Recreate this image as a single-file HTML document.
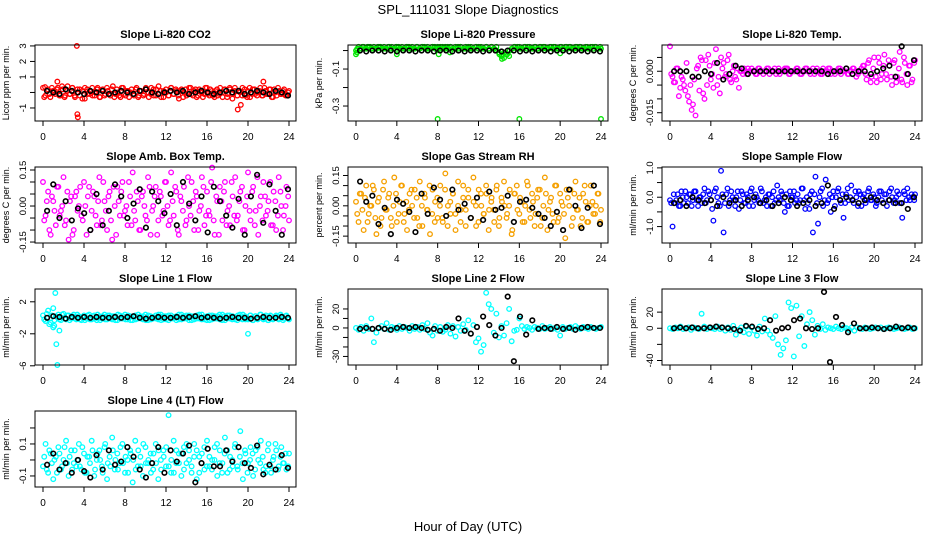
<!DOCTYPE html>
<html><head><meta charset="utf-8"><style>
html,body{margin:0;padding:0;background:#fff;}
svg text{font-family:"Liberation Sans",sans-serif;}
</style></head><body>
<svg id="chart" width="936" height="540" viewBox="0 0 936 540" xmlns="http://www.w3.org/2000/svg">
<text x="468" y="14" text-anchor="middle" font-size="13">SPL_111031  Slope Diagnostics</text>
<text x="468" y="531" text-anchor="middle" font-size="13">Hour of Day (UTC)</text>
</svg>
<script>
// ---- data (y-values evenly spread over 0..24 h; outliers as hour/value pairs) ----
const xTicks=[0,4,8,12,16,20,24];
// Panel 1 CO2 (x0.1)
const co2Colored=[3,-2,2,-3,1,-1,3,-2,2,-2,4,-1,3,-3,2,-2,1,-4,2,-1,3,-2,2,-3,1,-2,3,-1,2,-3,2,-2,3,-1,1,-3,2,-2,3,-2,1,-1,2,-3,3,-2,2,-1,1,-3,2,-2,3,-1,2,-2,1,-3,2,-1,3,-2,2,-2,1,-3,3,-1,2,-2,1,-2,3,-3,2,-1,2,-4,3,-2,1,-2,2,-3,3,-1,2,-2,1,-2,3,-1,2,-3,2,-2,1,-1,2,-2,1];
const co2Colored2=[-3,1,-1,3,0,2,-2,4,-3,1,-1,3,-2,0,2,-4,3,-1,1,-2,0,3,-3,2,-1,1,-2,4,-1,0,-3,3,-2,1,0,-1,2,-3,1,-2,3,0,-1,2,-2,4,-3,1,0,-2,3,-1,1,-4,2,0,-2,3,-1,1,-3,2,0,-1,3,-2,1,-3,2,-1,0,2,-3,3,-1,1,-2,0,3,-2,1,-3,2,-1,0,3,-2,1,-1,2,-3,0,3,-1,1,-2,0];
const co2Black=[1,0,-1,2,1,0,-1,1,0,1,-1,0,1,0,-1,1,2,0,-1,0,1,0,1,-1,0,1,0,-1,0,1,0,1,-1,0,1,0,-1,1,0,-2];
const co2OutHrs=[3.3,3.35,3.4,1.4,19,19.3,21.5,0.2];
const co2OutVals=[3.0,-1.4,-1.6,0.7,-1.1,-0.8,0.7,0.35];
// Panel 2 Pressure (x0.01)
const presColored=[0,2,1,2,1,2,1,2,1,2,1,2,1,2,2,1,2,1,2,1,2,1,2,1,2,1,2,1,2,1,2,1,2,2,1,2,1,2,1,2,1,2,1,2,1,2,1,2,1,2,1,2,1,2,1,2,-1,-3,-4,-2,-3,1,2,1,2,1,2,1,2,1,2,1,2,1,2,1,2,1,2,1,2,1,2,1,2,1,2,1,2,1,2,1,2,1,2,1,1];
const presColored2=[1,1,2,1,2,2,1,1,2,2,1,1,2,1,1,2,2,1,1,2,2,1,1,2,1,2,2,1,1,2,2,1,1,2,1,2,2,1,1,2,2,1,1,2,1,1,2,2,1,1,2,1,2,1,0,-2,-3,-1,-2,0,1,2,2,1,1,2,2,1,1,2,1,2,2,1,1,2,2,1,1,2,1,2,2,1,1,2,2,1,1,2,1,2,2,1,2];
const presBlack=[0,-1,0,0,-1,0,-1,0,0,-1,0,0,-1,0,0,-1,0,-1,0,0,-1,0,0,-1,0,0,-1,0,-1,0,0,-1,0,0,-1,0,0,-1,0,-1];
const presOutHrs=[0,8,16,24,4,0.1,8.1,20,9.2,14.3];
const presOutVals=[-0.02,-0.37,-0.37,-0.37,-0.02,-0.01,-0.02,-0.015,-0.01,-0.045];
// Panel 3 Li-820 Temp (x0.001)
const tempColored=[9,-2,-4,1,-6,-3,-7,-9,-5,-12,-16,2,5,-8,4,6,-3,-6,8,-2,5,3,-1,6,-4,2,-3,-6,0,1,-1,0,1,0,-1,1,0,0,1,-1,0,1,0,-1,0,1,1,-1,0,0,1,-1,0,1,0,-1,1,0,0,-1,1,0,1,-1,0,0,1,-1,0,1,-1,0,1,-2,0,1,2,-3,4,-2,5,-4,3,-1,6,-3,2,-5,4,-2,7,-4,3,-5,2,-3,4];
const tempColored2=[-1,-4,1,-9,-2,-5,3,-11,-14,-3,1,-7,4,-10,-5,2,-1,3,-5,-8,1,-2,4,-3,0,-2,1,0,-1,0,1,0,0,-1,1,0,-1,0,1,0,0,-1,1,0,0,1,-1,0,0,1,0,-1,0,1,0,0,-1,1,0,-1,0,0,1,0,-1,0,1,0,0,-1,0,1,0,-1,0,2,-1,3,-4,1,-2,5,-3,2,-1,4,-2,3,-4,1,-3,5,-1,2,-4,3];
const tempBlack=[0,0,0,-2,-2,0,-1,3,-3,-1,2,1,-1,0,0,0,0,0,0,0,0,0,0,0,0,-1,0,0,1,-1,0,0,-1,0,1,2,-2,9,-1,4];
// Panel 4 Amb Box Temp (x0.01)
const ambColored=[10,-4,6,-12,2,-8,8,-2,12,-6,-14,4,-10,6,0,-4,10,-12,8,-2,4,-8,12,-6,2,-10,6,-14,0,8,-4,10,-2,-8,4,14,-6,2,-10,6,-4,12,-12,0,8,-6,4,-2,10,-8,14,-4,6,-12,2,8,-6,0,10,-10,4,-2,12,-8,6,-4,16,-12,2,8,-6,10,-2,-8,4,12,-4,6,-10,0,14,-6,8,-2,-12,4,10,-4,2,-8,6,-10,12,0,-4,8,-6];
const ambColored2=[-6,2,-10,4,-2,8,-4,0,-8,6,2,-12,4,-2,8,-6,0,4,-10,6,-4,2,-8,10,-2,4,-6,8,-12,2,6,-4,0,10,-8,-2,6,-10,4,0,-6,8,-2,4,-12,6,-4,10,0,-6,2,8,-10,4,-2,-8,12,-4,2,6,-10,0,8,-4,-2,10,-6,4,-12,2,6,-8,0,10,-4,-6,2,8,-10,4,-2,6,-8,12,0,-6,4,-2,10,-8,2,-4,6,-10,0,4];
const ambBlack=[-2,9,-5,2,-6,-1,-3,-10,5,-8,-2,9,4,-5,1,7,-9,6,2,-3,5,-8,10,1,-6,4,-11,8,2,-4,-9,3,-12,4,13,-7,9,-2,-12,7];
// Panel 5 Gas Stream RH (x0.01)
const rhColored=[2,-8,6,-12,10,-4,0,8,-14,4,-6,12,-2,6,-10,14,-8,2,10,-4,-12,6,0,8,-6,12,-10,4,-2,-14,8,2,-6,10,-8,16,0,-4,6,-12,12,-2,4,-10,8,-6,14,0,-8,6,-4,10,-12,2,-2,8,-10,4,12,-6,0,-14,6,10,-4,2,-8,12,-2,6,-10,4,8,-6,14,-12,2,-4,10,-8,6,0,-16,4,8,-6,12,-2,-10,6,2,-8,10,-4,0,6,-2];
const rhColored2=[-4,6,-2,4,-8,0,10,-6,2,-10,8,-2,4,-6,0,6,-4,10,-8,2,-2,8,-6,4,-10,0,6,-2,10,-4,-8,4,0,-6,8,-10,2,6,-4,0,-8,10,-2,4,-6,2,-10,8,0,-4,6,-2,4,-8,10,-6,2,0,-4,8,-12,6,-2,4,-8,0,10,-6,2,-4,8,-10,0,6,-2,4,-8,10,-6,2,-4,8,0,-10,6,-2,4,-6,10,-8,0,2,-4,6,-8];
const rhBlack=[12,2,5,-9,-1,-14,3,1,-3,-13,6,-4,9,3,-5,8,-2,1,-6,4,-7,7,-2,-1,5,-8,2,3,-1,-4,-6,-10,-3,-12,8,0,-11,-1,10,-9];
// Panel 6 Sample Flow (x0.1)
const flowColored=[-1,-10,-2,1,-3,0,2,-2,1,-1,2,-3,0,1,-2,2,-1,-8,3,-2,9,-12,1,-3,2,-1,0,-4,2,-2,1,-3,3,-1,0,-2,2,-1,-3,1,0,-2,4,-1,1,-5,-3,2,0,-2,1,-1,3,-4,-2,1,-12,7,-9,2,-3,6,-1,-5,2,0,3,-2,-7,1,-1,4,-2,0,2,-3,1,-1,3,-1,0,-2,2,-1,1,-3,2,0,-1,2,-2,-7,1,3,-1,0,1];
const flowColored2=[-2,1,-1,-3,2,-2,0,1,-3,2,-1,0,-2,3,-1,1,-4,2,0,-3,1,-2,3,-1,0,-3,2,-1,1,-2,0,2,-3,1,-1,3,-2,0,1,-3,2,-1,0,2,-2,1,-3,0,2,-1,-2,3,-1,0,-4,2,1,-2,0,3,-1,-2,1,0,-3,2,-1,1,-2,3,0,-1,2,-3,1,0,-2,2,-1,1,-3,0,2,-2,1,-1,3,-2,0,1,-2,2,-1,0,1,-1];
const flowBlack=[-2,-1,-3,0,-1,-2,-1,-3,0,-2,-1,-3,-1,0,-2,-1,-3,-2,0,-1,-3,-2,-1,-3,-2,4,-4,-1,0,-1,-2,-1,0,-1,-2,-1,-2,-2,-4,0];
// Panel 7 Line 1 Flow (x0.1)
const l1Colored=[3,-4,9,-6,-12,2,4,-3,5,-2,3,-1,4,-2,2,-3,3,-1,4,-2,3,-3,2,-1,4,-2,3,-2,2,-3,3,-1,4,-2,2,-3,3,-1,2,-2,4,-3,2,-1,3,-2,4,-2,2,-3,3,-1,2,-2,4,-1,3,-3,2,-2,3,-1,4,-2,2,-3,3,-1,2,-2,4,-3,3,-1,2,-2,3,-1,4,-2,-2,3,-3,2,-1,4,-2,3,-3,2,-1,3,-2,2,-1,3,-2];
const l1Colored2=[-2,5,-8,3,-3,1,-2,4,-1,3,-3,2,-1,4,-2,1,-3,3,-2,2,-1,4,-3,2,-2,3,-1,2,-3,4,-1,2,-2,3,-3,1,-2,4,-1,2,-3,3,-2,1,-1,4,-3,2,-2,3,-1,1,-3,4,-2,2,-1,3,-3,2,-1,4,-2,1,-3,3,-2,2,-1,4,-3,2,-1,3,-2,1,-3,4,-2,2,-1,3,-3,2,-2,4,-1,1,-3,3,-2,2,-1,4,-3,2,-1];
const l1Black=[0,2,1,-1,1,0,1,0,1,0,0,1,0,1,2,0,-1,0,1,0,0,1,0,1,2,0,1,0,-1,0,1,0,0,-1,0,1,0,0,1,0];
const l1OutHrs=[1.2,1.3,1.4,1.0,1.6,20,1.1];
const l1OutVals=[3.1,-3.3,-5.9,1.2,-1.6,-2.0,-1.0];
// Panel 8 Line 2 Flow (x1)
const l2Colored=[0,-2,1,-3,2,-1,10,-15,-5,0,2,-1,5,-2,1,0,-2,2,-1,1,0,-3,2,-1,1,-2,3,-1,5,-5,-8,2,-3,1,-4,-2,3,-6,2,-9,1,-3,4,-2,8,-6,3,-15,-11,-25,-18,37,25,20,-5,15,-10,2,-8,5,20,-14,-3,-2,10,2,-1,1,0,-2,1,0,-1,2,-1,0,1,-1,0,-2,-8,1,-1,0,1,-1,2,0,-1,1,0,-1,1,0,-1,0,1];
const l2Black=[-1,0,-1,0,-1,-2,0,1,0,1,0,-2,-1,-3,1,0,10,-3,-6,1,12,3,-8,0,33,-35,12,-7,8,-1,0,-1,1,-1,0,-2,0,1,0,0];
// Panel 9 Line 3 Flow (x1)
const l3Colored=[0,-1,1,0,2,-1,0,1,-2,1,0,-1,18,2,-1,1,0,-1,2,-1,1,-3,1,-2,3,-8,-2,1,-5,2,-7,1,-3,-9,2,-4,12,-3,-8,-12,15,-20,-33,-25,-15,32,25,-35,28,-10,15,-22,5,20,10,-8,3,-1,5,-2,1,0,-1,2,0,-1,1,0,-2,1,-3,1,0,-1,1,0,-1,0,1,0,1,-1,0,1,0,-1,0,1,0,-1,0,1,-1,0];
const l3Black=[0,1,0,1,0,0,1,2,1,0,-1,-3,3,2,-1,0,10,-3,0,1,10,12,0,-1,0,45,-42,14,4,-5,6,0,0,1,0,-1,0,2,0,1,0];
// Panel 10 Line 4 (LT) Flow (x0.01)
const l4Colored=[-4,10,-8,4,-12,2,8,-6,0,12,-10,6,-2,-4,10,-6,4,-8,2,12,-10,0,6,-4,8,-12,2,14,-6,4,-2,10,-8,0,6,-14,12,-4,2,-10,8,-2,4,-6,10,-12,0,6,-4,28,-8,12,-2,4,-10,8,-2,6,-8,10,-12,2,4,-6,12,-4,0,8,-10,6,-2,14,-8,2,-4,10,-6,18,-12,4,-2,8,-10,6,0,12,-6,-4,10,-8,2,6,-4,8,-2,-6,4];
const l4Colored2=[2,-6,6,-2,0,-8,4,-4,8,-2,2,-6,6,0,-4,8,-8,2,-2,6,-6,4,0,-8,10,-2,-4,6,0,-6,8,-2,2,-8,4,0,-6,6,-4,10,-2,0,-8,4,-2,6,-6,2,8,-4,0,-8,6,-2,4,-6,10,0,-4,2,6,-8,-2,8,-4,2,-6,0,10,-2,-8,4,6,-6,0,8,-4,2,-2,6,-8,0,4,-6,8,-2,2,-8,6,-4,0,10,-6,2,-2,4,-4];
const l4Black=[-3,4,-6,-2,-8,0,-7,-11,3,-6,6,-3,-1,8,2,-6,-11,-2,8,-8,6,-1,4,9,-14,-2,7,-4,-4,6,-1,8,-2,-5,9,-9,-3,-6,3,-5];

const panels=[
 {name:'co2',title:'Slope Li-820 CO2',ylab:'Licor ppm per min.',col:0,row:0,ymin:-1.84,ymax:3.06,ticks:[-1,0,1,2,3],labels:['-1','','1','2','3'],color:'#ff0000',c:co2Colored,c2:co2Colored2,b:co2Black,s:0.1,oh:co2OutHrs,ov:co2OutVals},
 {name:'pressure',title:'Slope Li-820 Pressure',ylab:'kPa per min.',col:1,row:0,ymin:-0.381,ymax:0.03,ticks:[0,-0.1,-0.2,-0.3],labels:['','-0.1','','-0.3'],color:'#00e600',c:presColored,c2:presColored2,b:presBlack,s:0.01,bs:0.005,oh:presOutHrs,ov:presOutVals},
 {name:'li820-temp',title:'Slope Li-820 Temp.',ylab:'degrees C per min.',col:2,row:0,ymin:-0.018,ymax:0.0095,ticks:[0.005,0,-0.005,-0.01,-0.015],labels:['','0.000','','','-0.015'],color:'#ff00ff',c:tempColored,c2:tempColored2,b:tempBlack,s:0.001},
 {name:'amb-box-temp',title:'Slope Amb. Box Temp.',ylab:'degrees C per min.',col:0,row:1,ymin:-0.154,ymax:0.1625,ticks:[0.15,0.1,0.05,0,-0.05,-0.1,-0.15],labels:['0.15','','','0.00','','','-0.15'],color:'#ff00ff',c:ambColored,c2:ambColored2,b:ambBlack,s:0.01},
 {name:'gas-stream-rh',title:'Slope Gas Stream RH',ylab:'percent per min.',col:1,row:1,ymin:-0.184,ymax:0.192,ticks:[0.15,0.1,0.05,0,-0.05,-0.1,-0.15],labels:['0.15','','','0.00','','','-0.15'],color:'#f5a000',c:rhColored,c2:rhColored2,b:rhBlack,s:0.01},
 {name:'sample-flow',title:'Slope Sample Flow',ylab:'ml/min per min.',col:2,row:1,ymin:-1.56,ymax:1.03,ticks:[1,0.5,0,-0.5,-1],labels:['1.0','','0.0','','-1.0'],color:'#0000ff',c:flowColored,c2:flowColored2,b:flowBlack,s:0.1},
 {name:'line1-flow',title:'Slope Line 1 Flow',ylab:'ml/min per min.',col:0,row:2,ymin:-5.9,ymax:3.6,ticks:[2,-2,-6],labels:['2','-2','-6'],color:'#00ffff',c:l1Colored,c2:l1Colored2,b:l1Black,s:0.1,oh:l1OutHrs,ov:l1OutVals},
 {name:'line2-flow',title:'Slope Line 2 Flow',ylab:'ml/min per min.',col:1,row:2,ymin:-39,ymax:41,ticks:[20,10,0,-10,-20,-30],labels:['20','','0','','','-30'],color:'#00ffff',c:l2Colored,b:l2Black,s:1},
 {name:'line3-flow',title:'Slope Line 3 Flow',ylab:'ml/min per min.',col:2,row:2,ymin:-45.6,ymax:48.7,ticks:[20,0,-20,-40],labels:['20','0','','-40'],color:'#00ffff',c:l3Colored,b:l3Black,s:1},
 {name:'line4-flow',title:'Slope Line 4 (LT) Flow',ylab:'ml/min per min.',col:0,row:3,ymin:-0.169,ymax:0.306,ticks:[0.2,0.1,0,-0.1],labels:['','0.1','','-0.1'],color:'#00ffff',c:l4Colored,c2:l4Colored2,b:l4Black,s:0.01}
];
const colL=[35,348,662], colR=[296,608,922], rowT=[45,167,289,411], H=76;
const svg=document.getElementById('chart');
const NS='http://www.w3.org/2000/svg';
function mk(tag,attrs,parent){const e=document.createElementNS(NS,tag);for(const k in attrs)e.setAttribute(k,attrs[k]);(parent||svg).appendChild(e);return e;}
panels.forEach(p=>{
  const L=colL[p.col],R=colR[p.col],T=rowT[p.row],B=T+H;
  const xs=h=>L+8+h*(R-L-15)/24;
  const ys=v=>B-(v-p.ymin)/(p.ymax-p.ymin)*H;
  const g=mk('g',{});
  
  
  const t=mk('text',{x:(L+R)/2,y:T-7,'text-anchor':'middle','font-size':'11','font-weight':'bold'},g);
  
  
  t.textContent=p.title;
  const yl=mk('text',{x:0,y:0,'text-anchor':'middle','font-size':'9',transform:`translate(${L-26},${T+H/2}) rotate(-90)`},g);
  
  
  yl.textContent=p.ylab;
  const pts=mk('g',{fill:'none'},g);
  
  
  const n=p.c.length;
  p.c.forEach((v,i)=>{const c=mk('circle',{cx:xs(i*24/(n-1)),cy:ys(v*p.s),r:2.3,stroke:p.color,'stroke-width':1.3},pts);
    
    });
  if(p.c2){const n2=p.c2.length;
    p.c2.forEach((v,i)=>{const c=mk('circle',{cx:xs(0.12+i*23.8/(n2-1)),cy:ys(v*p.s),r:2.3,stroke:p.color,'stroke-width':1.3},pts);
    
    });}
  if(p.oh)p.oh.forEach((h,i)=>{const c=mk('circle',{cx:xs(h),cy:ys(p.ov[i]),r:2.3,stroke:p.color,'stroke-width':1.3},pts);
    
    });
  const bp=mk('g',{fill:'none'},g);
  
  
  const m=p.b.length, bs=p.bs||p.s;
  p.b.forEach((v,i)=>{const c=mk('circle',{cx:xs(0.4+i*23.5/(m-1)),cy:ys(v*bs),r:2.3,stroke:'#000','stroke-width':1.6},bp);
    
    });
  const box=mk('rect',{x:L,y:T,width:R-L,height:H,fill:'none',stroke:'#000','stroke-width':1},g);
  
  
  xTicks.forEach(h=>{mk('line',{x1:xs(h),x2:xs(h),y1:B,y2:B+5,stroke:'#000'},g);
    const tl=mk('text',{x:xs(h),y:B+19,'text-anchor':'middle','font-size':'10'},g);
    
    
    tl.textContent=h;});
  p.ticks.forEach((v,i)=>{const y=ys(v);mk('line',{x1:L-5,x2:L,y1:y,y2:y,stroke:'#000'},g);
    if(p.labels[i]){const tl=mk('text',{x:0,y:0,'text-anchor':'middle','font-size':'9.5',transform:`translate(${L-9},${y}) rotate(-90)`},g);
      
      
      tl.textContent=p.labels[i];}});
});
</script>
</body></html>
